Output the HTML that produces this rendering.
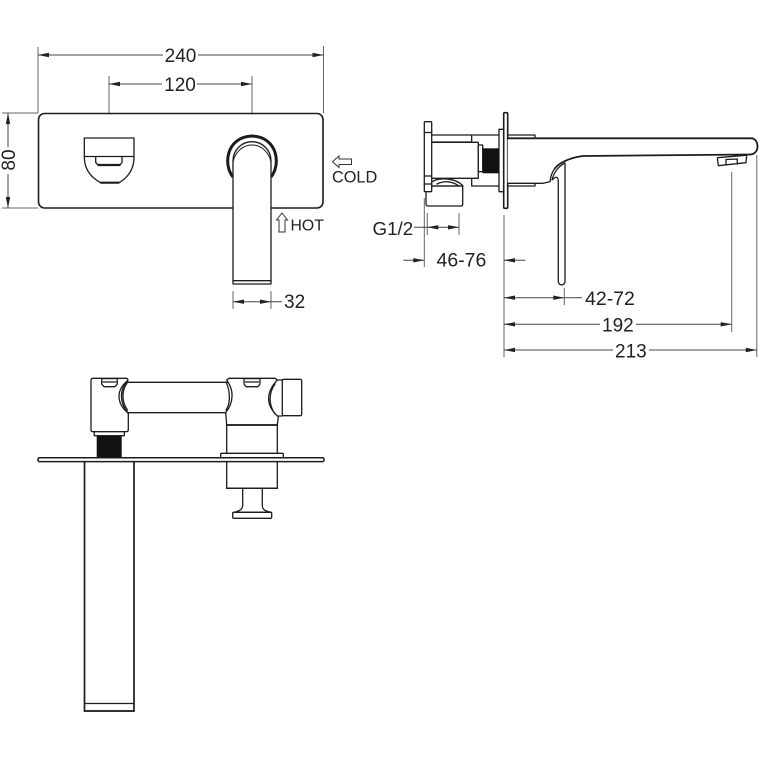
<!DOCTYPE html>
<html><head><meta charset="utf-8"><style>
html,body{margin:0;padding:0;background:#fff}
svg{display:block}
text{font-family:"Liberation Sans",sans-serif;fill:#222}
.o{fill:none;stroke:#1c1c1c;stroke-width:1.3;stroke-linejoin:round;stroke-linecap:round}
.w{fill:#fff;stroke:#1c1c1c;stroke-width:1.3;stroke-linejoin:round}
.t{fill:none;stroke:#1c1c1c;stroke-width:2.2;stroke-linecap:round}
.e{fill:none;stroke:#666;stroke-width:1}
.s{fill:none;stroke:#444;stroke-width:1}
.a{fill:#222;stroke:none}
</style></head><body>
<svg width="759" height="759" viewBox="0 0 759 759" xmlns="http://www.w3.org/2000/svg">

<!-- front view dims -->
<path class="e" d="M38 47V113M323.500 46V113M109 76V132M252 76V127M2 113H38M2 208H38M233 291V309M271 291V309"/>
<path class="s" d="M38 55H163M198 55H323.500M109 84H162M197 84H252M8 113V147M8 174V208M233 301.700H282"/>
<path class="a" d="M38 55l11-2.200v4.400ZM323.500 55l-11-2.200v4.400ZM109 84l11-2.200v4.400ZM252 84l-11-2.200v4.400ZM8 113l-2.200 11h4.400ZM8 208l-2.200-11h4.400ZM233 301.700l11-2.200v4.400ZM271 301.700l-11-2.200v4.400Z"/>
<text x="180.500" y="62" font-size="19" text-anchor="middle">240</text>
<text x="180" y="91" font-size="19" text-anchor="middle">120</text>
<text x="15" y="160" font-size="19" text-anchor="middle" transform="rotate(-90 15 160)">80</text>
<text x="284" y="308" font-size="19">32</text>

<!-- front view plate -->
<rect x="38.500" y="113.500" width="284.500" height="94.500" rx="6" fill="#fff" stroke="#1c1c1c" stroke-width="1.600"/>
<!-- outlet -->
<path class="o" d="M84.300 138H134V157C134 170 127 178 119 182.700H100.700C92 178 84.300 170 84.300 157Z"/>
<path class="o" d="M84.300 156.500H134M95.700 156.500V162.500L98 165H120L122 162.500V156.500"/>
<path class="t" d="M98.500 165H119.500M101 182.700H118.500"/>
<!-- mixer and spout -->
<path fill="none" stroke="#1c1c1c" stroke-width="3" d="M233 177C223 165 226 137 252 136C278 137 281 165 271 177"/>
<path class="w" d="M233 284V160.700A19 19 0 0 1 271 160.700V284Z"/>
<path fill="none" stroke="#1c1c1c" stroke-width="1" d="M233 162A19.500 22 0 0 1 271 162"/>
<path class="o" d="M233 280.700H271"/>
<!-- cold / hot -->
<path fill="#fff" stroke="#333" stroke-width="1" d="M332.500 161.700L339 156V159H351.500V164.500H339V167.500Z"/>
<text x="332" y="182.700" font-size="16.300">COLD</text>
<path fill="#fff" stroke="#333" stroke-width="1" d="M282 213L287.500 220H285V232H279V220H276.500Z"/>
<text x="290.500" y="230.700" font-size="15.800">HOT</text>

<!-- side view dims -->
<path class="e" d="M504 215V357M424.300 198V267M427.300 213V235M459 213V235M564.300 288V305M731.700 172V332M756.800 155V357"/>
<path class="s" d="M403.300 260.300H424.300M504 260.300H525.300M414 227.300H459M504 297.700H582M504 324.300H600M636 324.300H731.700M504 350H613M649 350H756.800"/>
<path class="a" d="M424.300 260.300l-11-2.200v4.400ZM504 260.300l11-2.200v4.400ZM427.300 227.300l11-2.200v4.400ZM459 227.300l-11-2.200v4.400ZM504 297.700l11-2.200v4.400ZM564.300 297.700l-11-2.200v4.400ZM504 324.300l11-2.200v4.400ZM731.700 324.300l-11-2.200v4.400ZM504 350l11-2.200v4.400ZM756.800 350l-11-2.200v4.400Z"/>
<text x="372.500" y="235" font-size="18.800">G1/2</text>
<text x="436.500" y="266.700" font-size="19.500">46-76</text>
<text x="585" y="305" font-size="19.500">42-72</text>
<text x="602" y="331.700" font-size="19">192</text>
<text x="615" y="357.300" font-size="19">213</text>

<!-- side view body -->
<path class="w" d="M426 186H462.700V204C462.700 205.500 462 206 461 206H428C426.500 206 426 205.500 426 204Z"/>
<path class="o" d="M431.700 135H499M431.700 142H471.700V135M471.700 178V186H499M431.700 186H463"/>
<rect x="426.700" y="142.300" width="51.600" height="36" class="w"/>
<path class="o" d="M431.700 182C438 177.500 455 177 463 186M437 184C444 180.500 452 181 459 186"/>
<rect x="478.300" y="145" width="4.400" height="26.700" class="w"/>
<rect x="482.700" y="148.300" width="16.300" height="25" fill="#111"/>
<rect x="424.300" y="121.700" width="7.400" height="70" rx="1" class="w"/>
<path class="o" d="M424.300 132.500H431.700M424.300 176H431.700M424.300 184H431.700"/>
<rect x="499" y="129.300" width="4.700" height="62.400" class="w"/>
<rect x="503.700" y="112.700" width="4" height="95.600" rx="1" fill="#fff" stroke="#1c1c1c" stroke-width="1.600"/>
<path class="o" d="M507.700 135H535V138.300M507.700 186H535V183.300"/>
<path fill="#fff" stroke="none" d="M507.700 138.300H751.500C755 138.300 757.500 142 757.500 146.500C757.500 151 754.500 154.500 750 154.500L583 156C566 158 552 167 550 181.700L543 183.300H507.700Z"/>
<path class="t" style="stroke-width:1.800" d="M507.700 138.300H751.500C755 138.300 757.500 142 757.500 146.500C757.500 151 754.500 154.500 750 154.500L583 156C570 157.500 559 163 555 168.300"/>
<path class="o" d="M555 168.300C552 172 550.500 177 550 181.700L543 183.300H507.700"/>
<path class="w" d="M717.300 157.700L718.300 165.700L746 162.700L746.700 155.200Z"/>
<path class="o" d="M726 165V159.500L737.300 159V164"/>
<path class="w" d="M565 163V281.500A3.350 3.350 0 0 1 558.300 281.500V182C558.300 176 556 176 552 180C554 172 559 166 565 163Z"/>

<!-- bottom view -->
<path d="M84.500 461.700V711H134V461.700" fill="#fff" stroke="#1c1c1c" stroke-width="1.700"/>
<path class="o" d="M84.500 703.500H134M84.500 711H134"/>
<!-- pipe -->
<path class="o" d="M124 382.300H230M124 412.700H230"/>
<!-- cap -->
<path class="o" d="M275 380H282.300M275 416H282.300"/>
<rect x="282.300" y="379.300" width="19.400" height="36.400" rx="1.500" class="w"/>
<!-- left block -->
<path class="w" d="M93 378.300H126C127.500 378.300 128 379 127.800 380.500C116 390 116 403 128.300 413.300V429.700C128.300 431 127.500 431.700 126 431.700H93C91.500 431.700 91 431 91 429.700V380.500C91 379 91.500 378.300 93 378.300Z"/>
<path class="o" d="M127.800 380.500C119 390 119.500 403 128.300 413.300" />
<path class="o" d="M127 383C121.500 391 121.500 402 127.500 410"/>
<path class="w" d="M101.700 378.600H117.300V384L115 386.700H104L101.700 384Z"/>
<path class="o" d="M103 382H116"/>
<rect x="94.300" y="431.700" width="30" height="4" fill="#fff" stroke="#1c1c1c" stroke-width="1.300"/>
<rect x="96.700" y="435.700" width="25" height="22" fill="#111"/>
<!-- column -->
<path fill="#fff" stroke="#1c1c1c" stroke-width="1.300" d="M226.700 425V488.300H277.300V425"/>
<path class="t" style="stroke-width:1.500" d="M226.700 488.300H277.300"/>
<rect x="220.700" y="453.300" width="62.600" height="4.400" rx="1" fill="#fff" stroke="#1c1c1c" stroke-width="1.300"/>
<!-- plate -->
<rect x="38" y="457.700" width="286" height="3.900" rx="1.500" fill="#fff" stroke="#1c1c1c" stroke-width="1.500"/>
<!-- right block -->
<path class="w" d="M229 378.300H275L277.300 380C266 392 265 405 278.300 416.700L277.300 425H226.700L225.700 412.700C234 402 234 390 226.700 380Z"/>
<path class="o" d="M226 382C230 390 231 403 226 410M275 384C268.500 393 268.500 405 275 414"/>
<path class="t" style="stroke-width:1.700" d="M226.700 425H277.300"/>
<path class="w" d="M244 378.600H260V384L258 386.700H246L244 384Z"/>
<path class="o" d="M245.500 382H258.500"/>
<!-- knob -->
<path class="w" d="M242.700 488.300V505C242.700 509 240 511 234 512.300H271C264 511 262.300 509 262.300 505V488.300Z"/>
<rect x="232.700" y="512.300" width="39" height="6" rx="1" class="w"/>
</svg>
</body></html>
